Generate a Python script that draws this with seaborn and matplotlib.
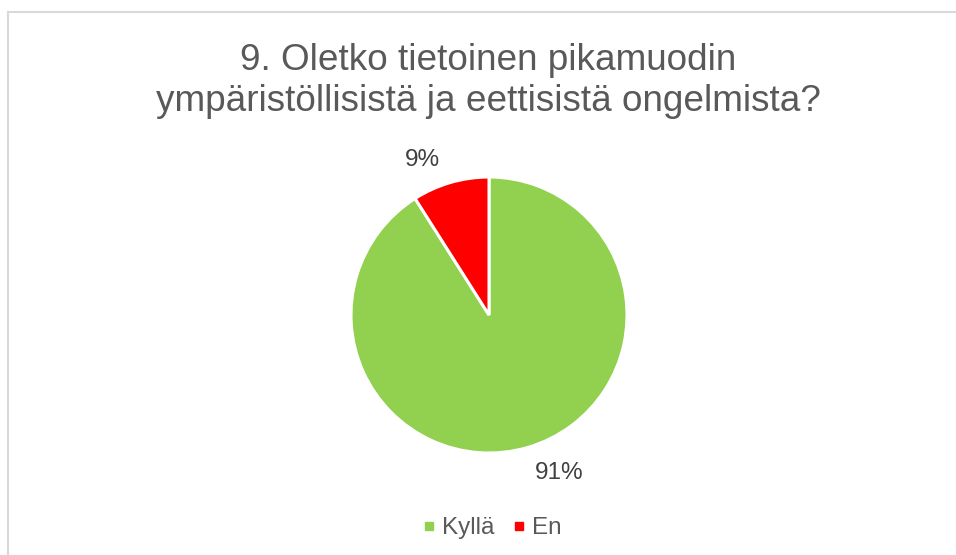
import matplotlib
matplotlib.use("Agg")
import matplotlib.pyplot as plt
from matplotlib.lines import Line2D
import seaborn as sns

# Survey answers
categories = ["Kyllä", "En"]
shares = [91, 9]
colors = ["#92D050", "#FF0000"]
title = "9. Oletko tietoinen pikamuodin\nympäristöllisistä ja eettisistä ongelmista?"

sns.set_theme(style="white")
plt.rcParams["font.family"] = ["Liberation Sans", "DejaVu Sans"]

fig = plt.figure(figsize=(9.56, 5.55), dpi=100)
fig.patch.set_facecolor("white")

# light frame along the top and left edges
fig.add_artist(Line2D([8 / 956, 8 / 956], [0, 1 - 12 / 555], transform=fig.transFigure,
                      color="#D9D9D9", lw=1.5))
fig.add_artist(Line2D([8 / 956, 1], [1 - 12 / 555, 1 - 12 / 555], transform=fig.transFigure,
                      color="#D9D9D9", lw=1.5))

fig.text(0.5105, 1 - 81 / 555, title, ha="center", va="center", fontsize=26.6,
         color="#595959", linespacing=1.24)

cx, cy, r = 489, 315, 138
ax = fig.add_axes([(cx - r) / 956, (555 - cy - r) / 555, 2 * r / 956, 2 * r / 555])
wedges, _ = ax.pie(shares, colors=colors, startangle=90, counterclock=False,
                   wedgeprops=dict(edgecolor="white", linewidth=2.2))
ax.set_xlim(-1, 1)
ax.set_ylim(-1, 1)
ax.set_aspect("auto")
ax.axis("off")

# value labels placed outside the pie
label_pos = {"Kyllä": (0.51, -1.145), "En": (-0.48, 1.12)}
for cat, val in zip(categories, shares):
    x, y = label_pos[cat]
    ax.text(x, y, f"{val}%", ha="center", va="center", fontsize=17.5,
            color="#404040", clip_on=False)

handles = [Line2D([], [], marker="s", linestyle="none", markersize=5.5,
                  markerfacecolor=c, markeredgecolor=c) for c in colors]
fig.legend(handles, categories, loc="center", bbox_to_anchor=(0.514, 1 - 528 / 555),
           ncol=2, frameon=False, fontsize=17.5, handletextpad=0.25, columnspacing=0.7,
           handlelength=0.6, labelcolor="#595959")

fig.savefig("out.png", dpi=100, facecolor="white")
